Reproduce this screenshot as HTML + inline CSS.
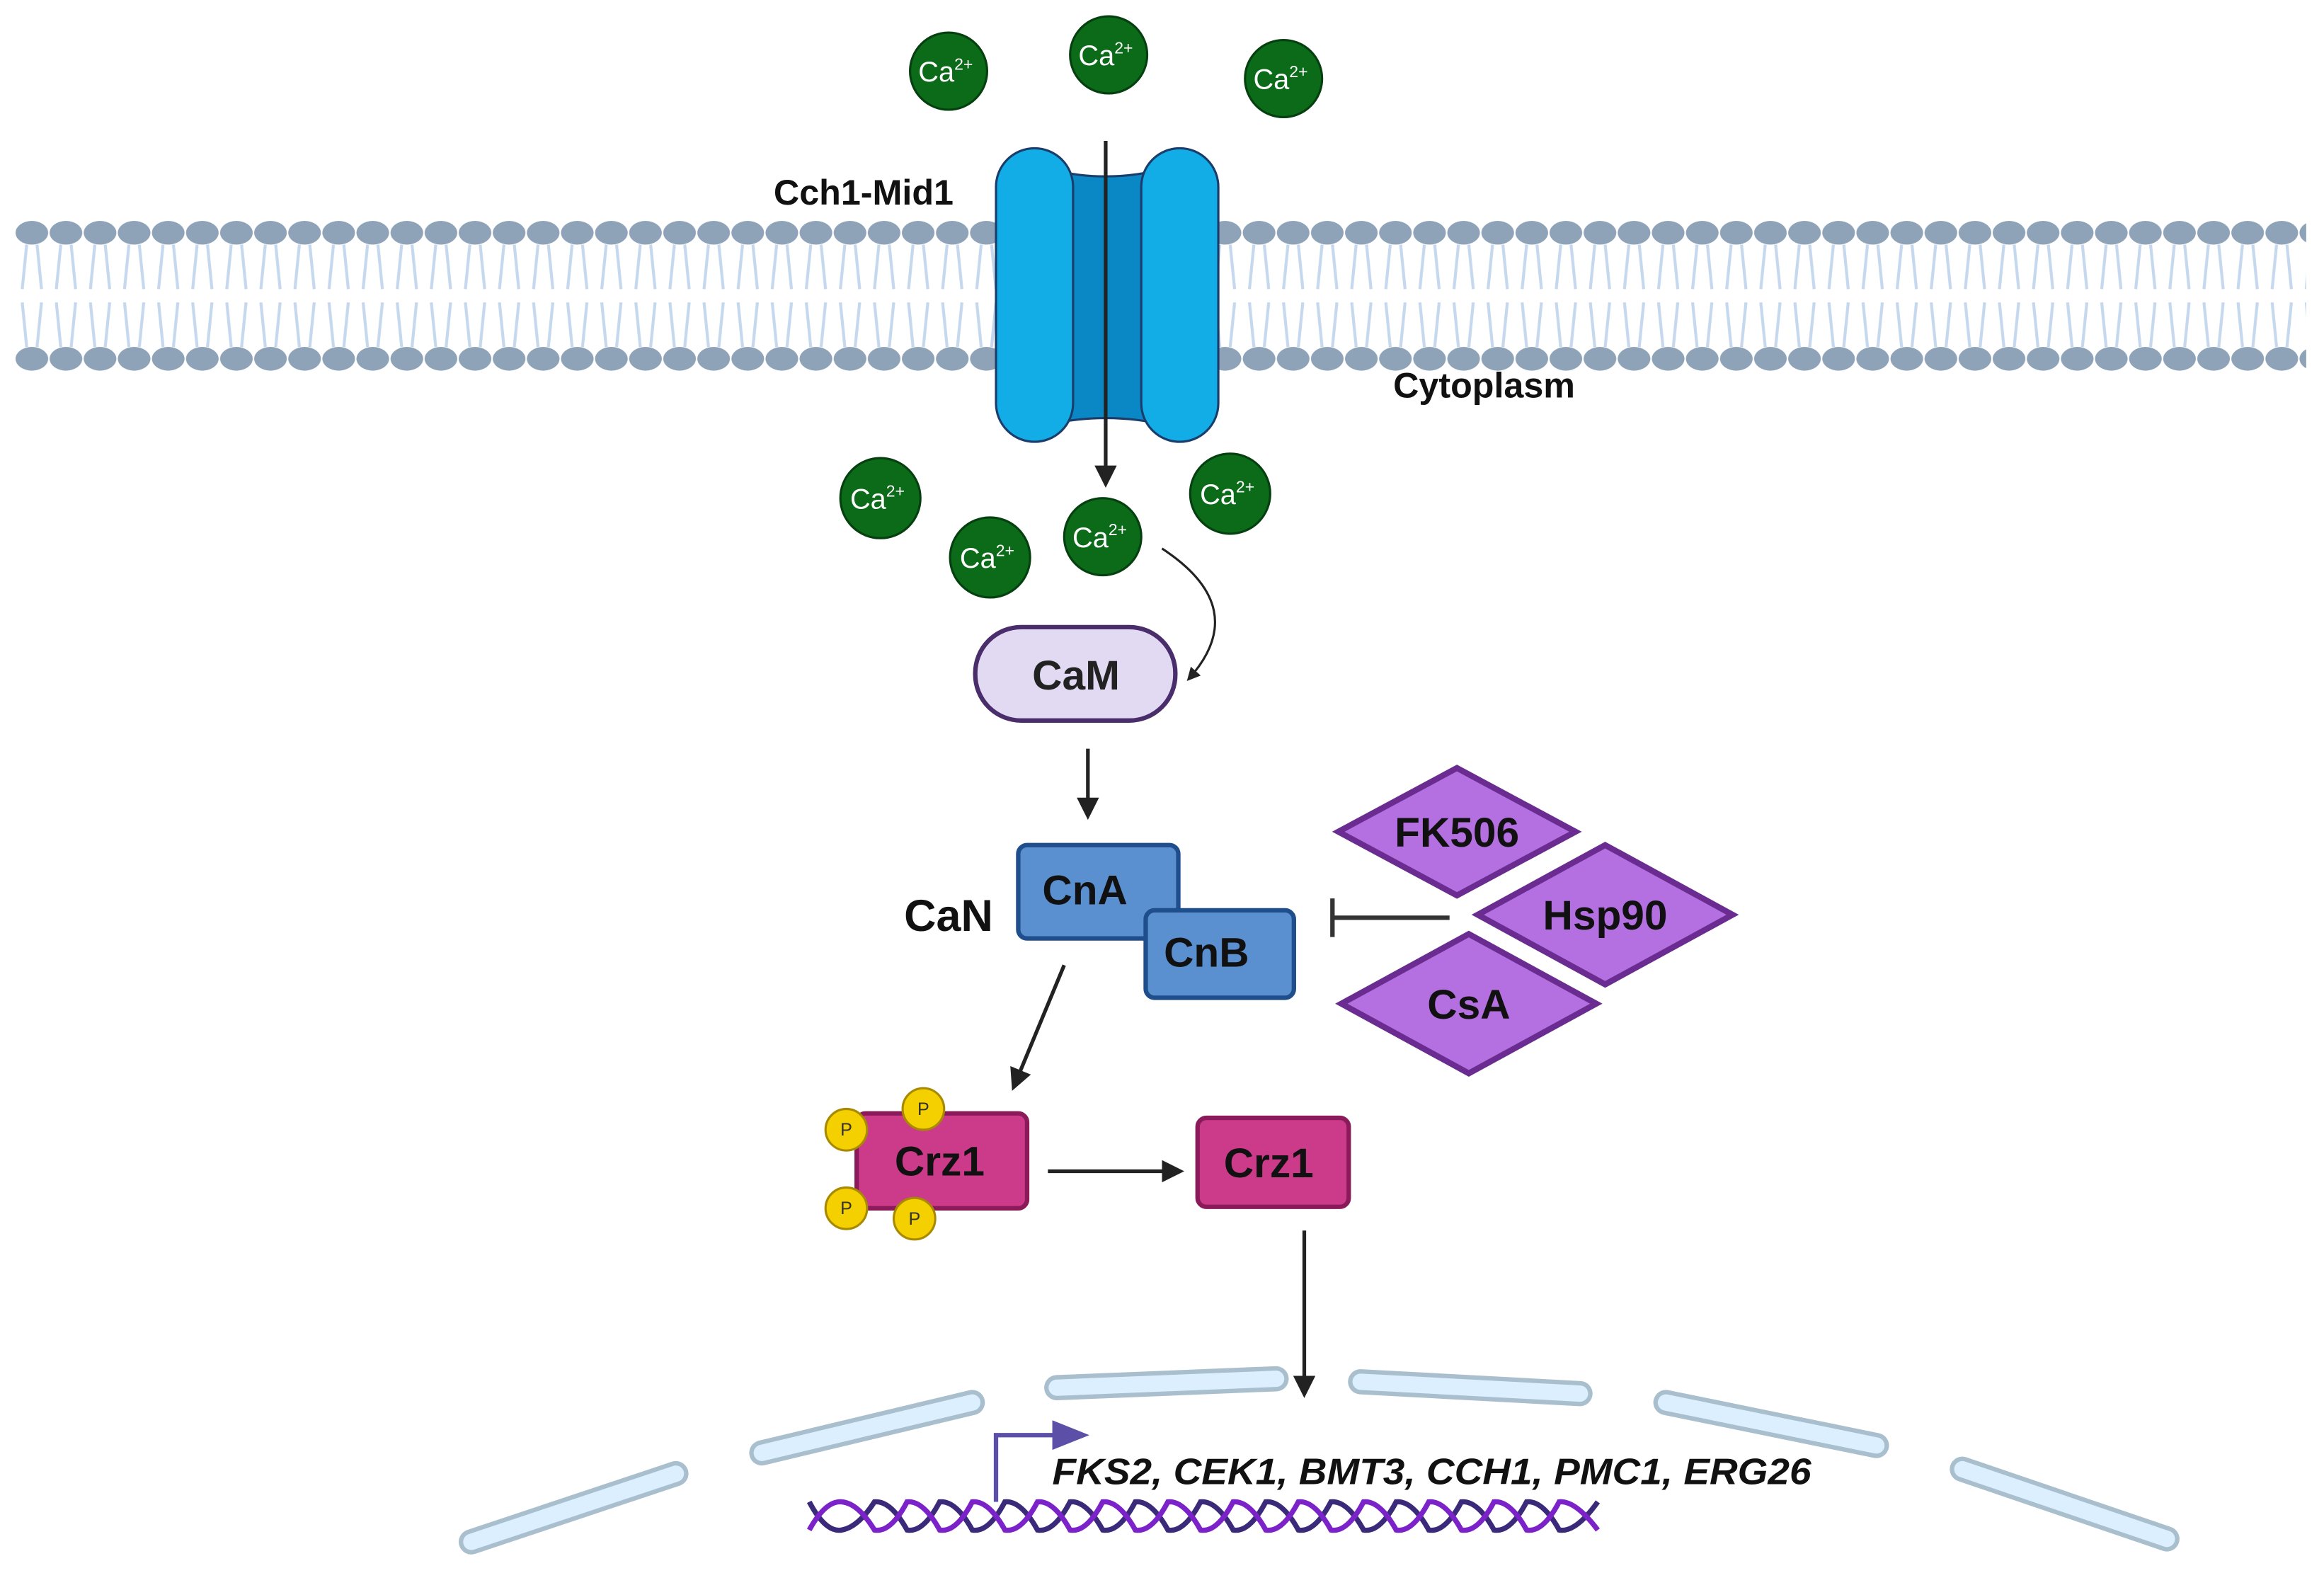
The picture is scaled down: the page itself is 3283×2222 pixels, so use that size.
<!DOCTYPE html>
<html><head><meta charset="utf-8"><style>html,body{margin:0;padding:0;background:#fff}svg{display:block}</style></head><body>
<svg width="3283" height="2222" viewBox="0 0 1568 1061" preserveAspectRatio="none" xmlns="http://www.w3.org/2000/svg" font-family="Liberation Sans, sans-serif">
<defs>
<marker id="ah" viewBox="0 0 10 10" refX="8" refY="5" markerWidth="6" markerHeight="6" orient="auto"><path d="M0,0L10,5L0,10z" fill="#222"/></marker>
<pattern id="heads" x="10" y="0" width="23" height="1061" patternUnits="userSpaceOnUse">
<ellipse cx="11.5" cy="157" rx="11" ry="8" fill="#8fa3b8"/>
<ellipse cx="11.5" cy="242" rx="11" ry="8" fill="#8fa3b8"/>
<path d="M8,165 L5,195 M15,165 L18,195 M8,234 L5,204 M15,234 L18,204" stroke="#c6d8ee" stroke-width="2" fill="none"/>
</pattern>
</defs>
<rect x="10" y="145" width="1546" height="108" fill="url(#heads)"/>
<path d="M700,112 Q746,126 792,112 L792,288 Q746,276 700,288 Z" fill="#0a88c6" stroke="#1a3d6b" stroke-width="1.5"/>
<rect x="672" y="100" width="52" height="198" rx="26" fill="#12ade6" stroke="#1a3d6b" stroke-width="1.5"/>
<rect x="770" y="100" width="52" height="198" rx="26" fill="#12ade6" stroke="#1a3d6b" stroke-width="1.5"/>
<line x1="746" y1="95" x2="746" y2="326" stroke="#222" stroke-width="2.5" marker-end="url(#ah)"/>
<text x="522" y="138" font-size="24" font-weight="bold" fill="#111">Cch1-Mid1</text>
<text x="940" y="268" font-size="24" font-weight="bold" fill="#111">Cytoplasm</text>
<g font-size="19" fill="#fff" text-anchor="middle">
<g><circle cx="640" cy="48" r="26" fill="#0b6b18" stroke="#064010" stroke-width="1.5"/><text x="638" y="55">Ca<tspan font-size="11" dy="-8">2+</tspan></text></g>
<g><circle cx="748" cy="37" r="26" fill="#0b6b18" stroke="#064010" stroke-width="1.5"/><text x="746" y="44">Ca<tspan font-size="11" dy="-8">2+</tspan></text></g>
<g><circle cx="866" cy="53" r="26" fill="#0b6b18" stroke="#064010" stroke-width="1.5"/><text x="864" y="60">Ca<tspan font-size="11" dy="-8">2+</tspan></text></g>
<g><circle cx="594" cy="336" r="27" fill="#0b6b18" stroke="#064010" stroke-width="1.5"/><text x="592" y="343">Ca<tspan font-size="11" dy="-8">2+</tspan></text></g>
<g><circle cx="668" cy="376" r="27" fill="#0b6b18" stroke="#064010" stroke-width="1.5"/><text x="666" y="383">Ca<tspan font-size="11" dy="-8">2+</tspan></text></g>
<g><circle cx="744" cy="362" r="26" fill="#0b6b18" stroke="#064010" stroke-width="1.5"/><text x="742" y="369">Ca<tspan font-size="11" dy="-8">2+</tspan></text></g>
<g><circle cx="830" cy="333" r="27" fill="#0b6b18" stroke="#064010" stroke-width="1.5"/><text x="828" y="340">Ca<tspan font-size="11" dy="-8">2+</tspan></text></g>
</g>
<path d="M784,370 Q845,410 802,458" fill="none" stroke="#222" stroke-width="1.5" marker-end="url(#ah)"/>
<rect x="658" y="423" width="135" height="63" rx="31" fill="#e2daf2" stroke="#4a2d6b" stroke-width="3"/>
<text x="726" y="465" font-size="28" font-weight="bold" text-anchor="middle" fill="#222">CaM</text>
<line x1="734" y1="505" x2="734" y2="550" stroke="#222" stroke-width="2.5" marker-end="url(#ah)"/>
<text x="640" y="628" font-size="30" font-weight="bold" text-anchor="middle" fill="#111">CaN</text>
<rect x="687" y="570" width="108" height="63" rx="6" fill="#5a8fd0" stroke="#1f4e8c" stroke-width="3"/>
<text x="732" y="610" font-size="28" font-weight="bold" text-anchor="middle" fill="#111">CnA</text>
<rect x="773" y="614" width="100" height="59" rx="6" fill="#5a8fd0" stroke="#1f4e8c" stroke-width="3"/>
<text x="814" y="652" font-size="28" font-weight="bold" text-anchor="middle" fill="#111">CnB</text>
<line x1="978" y1="619" x2="899" y2="619" stroke="#333" stroke-width="3"/>
<line x1="899" y1="606" x2="899" y2="632" stroke="#333" stroke-width="3"/>
<g stroke="#6a2c91" stroke-width="4" fill="#b46fe0">
<path d="M903,561 L983,518 L1063,561 L983,604 Z"/>
<path d="M997,617 L1083,570 L1169,617 L1083,664 Z"/>
<path d="M905,677 L991,630 L1077,677 L991,724 Z"/>
</g>
<g font-size="28" font-weight="bold" text-anchor="middle" fill="#111">
<text x="983" y="571">FK506</text><text x="1083" y="627">Hsp90</text><text x="991" y="687">CsA</text>
</g>
<line x1="718" y1="651" x2="684" y2="733" stroke="#222" stroke-width="2.5" marker-end="url(#ah)"/>
<rect x="578" y="751" width="115" height="64" rx="6" fill="#cc3a8a" stroke="#8a1a5a" stroke-width="3"/>
<text x="634" y="793" font-size="28" font-weight="bold" text-anchor="middle" fill="#111">Crz1</text>
<g fill="#f5d000" stroke="#a88a00" stroke-width="1.5">
<circle cx="571" cy="762" r="14"/><circle cx="623" cy="748" r="14"/><circle cx="571" cy="815" r="14"/><circle cx="617" cy="822" r="14"/>
</g>
<g font-size="12" text-anchor="middle" fill="#333"><text x="571" y="766">P</text><text x="623" y="752">P</text><text x="571" y="819">P</text><text x="617" y="826">P</text></g>
<line x1="707" y1="790" x2="796" y2="790" stroke="#222" stroke-width="2.5" marker-end="url(#ah)"/>
<rect x="808" y="754" width="102" height="60" rx="6" fill="#cc3a8a" stroke="#8a1a5a" stroke-width="3"/>
<text x="856" y="794" font-size="28" font-weight="bold" text-anchor="middle" fill="#111">Crz1</text>
<line x1="880" y1="830" x2="880" y2="940" stroke="#222" stroke-width="2.5" marker-end="url(#ah)"/>
<g stroke-linecap="round" fill="none">
<g stroke="#a9bfcd" stroke-width="17">
<path d="M318,1040 L456,994"/><path d="M514,980 L656,946"/><path d="M713,936 L861,930"/><path d="M918,932 L1066,940"/><path d="M1124,946 L1266,975"/><path d="M1324,991 L1462,1038"/>
</g>
<g stroke="#dcefff" stroke-width="11">
<path d="M318,1040 L456,994"/><path d="M514,980 L656,946"/><path d="M713,936 L861,930"/><path d="M918,932 L1066,940"/><path d="M1124,946 L1266,975"/><path d="M1324,991 L1462,1038"/>
</g>
</g>
<path d="M672,1013 L672,968 L712,968" fill="none" stroke="#5b4fa8" stroke-width="3"/>
<path d="M710,958 L735,968 L710,978 Z" fill="#5b4fa8"/>
<text x="710" y="1001" font-size="25" font-weight="bold" font-style="italic" fill="#111" textLength="512" lengthAdjust="spacingAndGlyphs">FKS2, CEK1, BMT3, CCH1, PMC1, ERG26</text>
<path d="M546,1013 Q557,1034 568,1032 Q579,1030 590,1013 Q601,1012 612,1032 Q623,1034 634,1013 Q645,1012 656,1032 Q667,1034 678,1013 Q689,1012 700,1032 Q711,1034 722,1013 Q733,1012 744,1032 Q755,1034 766,1013 Q777,1012 788,1032 Q799,1034 810,1013 Q821,1012 832,1032 Q843,1034 854,1013 Q865,1012 876,1032 Q887,1034 898,1013 Q909,1012 920,1032 Q931,1034 942,1013 Q953,1012 964,1032 Q975,1034 986,1013 Q997,1012 1008,1032 Q1019,1034 1030,1013 Q1041,1012 1052,1032 Q1063,1034 1078,1013" fill="none" stroke="#3b2a7a" stroke-width="3.5"/>
<path d="M546,1032 Q557,1012 568,1013 Q579,1014 590,1032 Q601,1034 612,1013 Q623,1012 634,1032 Q645,1034 656,1013 Q667,1012 678,1032 Q689,1034 700,1013 Q711,1012 722,1032 Q733,1034 744,1013 Q755,1012 766,1032 Q777,1034 788,1013 Q799,1012 810,1032 Q821,1034 832,1013 Q843,1012 854,1032 Q865,1034 876,1013 Q887,1012 898,1032 Q909,1034 920,1013 Q931,1012 942,1032 Q953,1034 964,1013 Q975,1012 986,1032 Q997,1034 1008,1013 Q1019,1012 1030,1032 Q1041,1034 1052,1013 Q1063,1012 1078,1032" fill="none" stroke="#7b22c8" stroke-width="3.5"/>
</svg>
</body></html>
